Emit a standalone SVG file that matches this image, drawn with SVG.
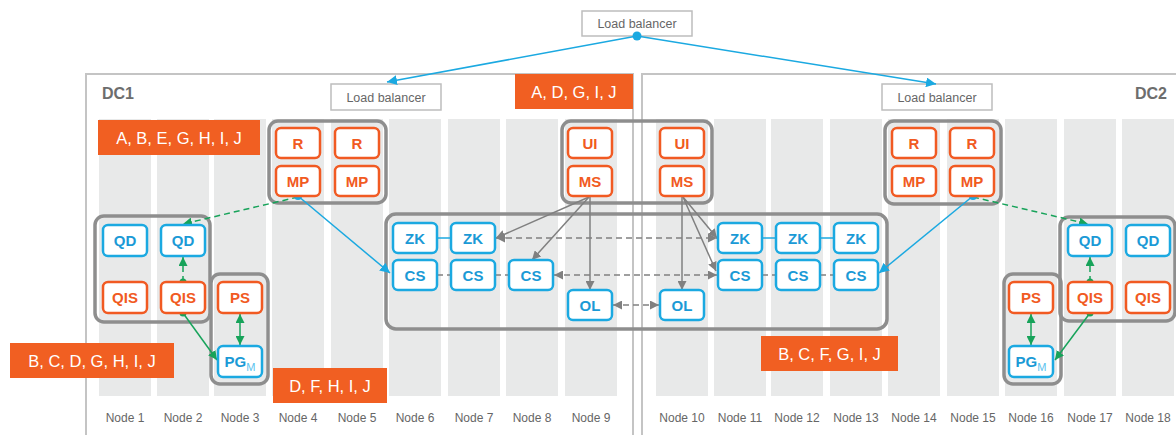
<svg xmlns="http://www.w3.org/2000/svg" width="1176" height="435" viewBox="0 0 1176 435">
<defs>
<style>
.col{fill:#e8e9e9}
.dc{fill:none;stroke:#c4c4c4;stroke-width:2}
.lb{fill:#fff;stroke:#bdbdbd;stroke-width:1.5}
.lbt{font-family:"Liberation Sans",Arial,sans-serif;font-size:12.5px;fill:#666;text-anchor:middle}
.dct{font-family:"Liberation Sans",Arial,sans-serif;font-size:16px;font-weight:bold;fill:#6d6d6d}
.tag{fill:#f15f22}
.tagt{font-family:"Liberation Sans",Arial,sans-serif;font-size:16.5px;fill:#fff;text-anchor:middle}
.grp{fill:none;stroke:#8e8e8e;stroke-width:3.5}
.o{fill:#fff;stroke:#f15a22;stroke-width:2.5}
.b{fill:#fff;stroke:#1ba9e1;stroke-width:2.5}
.ot{font-family:"Liberation Sans",Arial,sans-serif;font-size:15px;font-weight:bold;fill:#f15a22;text-anchor:middle}
.bt{font-family:"Liberation Sans",Arial,sans-serif;font-size:15px;font-weight:bold;fill:#1b9ad6;text-anchor:middle}
.sub{font-size:11px;font-weight:normal;fill:#5cc3ee}
.nt{font-family:"Liberation Sans",Arial,sans-serif;font-size:12px;fill:#666;text-anchor:middle}
.gy{fill:none;stroke:#808080;stroke-width:1.5}
.gyd{fill:none;stroke:#808080;stroke-width:1.5;stroke-dasharray:6 4}
.bl{fill:none;stroke:#1ba9e1;stroke-width:1.5}
.gr{fill:none;stroke:#17a35a;stroke-width:1.5}
.grd{fill:none;stroke:#17a35a;stroke-width:1.5;stroke-dasharray:6 4}
</style>
<marker id="ag" viewBox="0 0 10 10" refX="10" refY="5" markerWidth="9" markerHeight="9" markerUnits="userSpaceOnUse" orient="auto-start-reverse"><path d="M0,0 L10,5 L0,10 z" fill="#808080"/></marker>
<marker id="ab" viewBox="0 0 10 10" refX="10" refY="5" markerWidth="10" markerHeight="10" markerUnits="userSpaceOnUse" orient="auto-start-reverse"><path d="M0,0 L10,5 L0,10 z" fill="#1ba9e1"/></marker>
<marker id="an" viewBox="0 0 10 10" refX="10" refY="5" markerWidth="9" markerHeight="9" markerUnits="userSpaceOnUse" orient="auto-start-reverse"><path d="M0,0 L10,5 L0,10 z" fill="#17a35a"/></marker>
</defs>
<rect width="1176" height="435" fill="#fff"/>

<g id="columns">
<rect class="col" x="99" y="119" width="52" height="277"/>
<rect class="col" x="157" y="119" width="52" height="277"/>
<rect class="col" x="214" y="119" width="52" height="277"/>
<rect class="col" x="272" y="119" width="52" height="277"/>
<rect class="col" x="331" y="119" width="52" height="277"/>
<rect class="col" x="389" y="119" width="52" height="277"/>
<rect class="col" x="448" y="119" width="52" height="277"/>
<rect class="col" x="506" y="119" width="52" height="277"/>
<rect class="col" x="565" y="119" width="52" height="277"/>
<rect class="col" x="656" y="119" width="52" height="277"/>
<rect class="col" x="714" y="119" width="52" height="277"/>
<rect class="col" x="771" y="119" width="52" height="277"/>
<rect class="col" x="830" y="119" width="52" height="277"/>
<rect class="col" x="888" y="119" width="52" height="277"/>
<rect class="col" x="947" y="119" width="52" height="277"/>
<rect class="col" x="1005" y="119" width="52" height="277"/>
<rect class="col" x="1064" y="119" width="52" height="277"/>
<rect class="col" x="1122" y="119" width="52" height="277"/>
<text class="nt" x="125" y="422">Node 1</text>
<text class="nt" x="183" y="422">Node 2</text>
<text class="nt" x="240" y="422">Node 3</text>
<text class="nt" x="298" y="422">Node 4</text>
<text class="nt" x="357" y="422">Node 5</text>
<text class="nt" x="415" y="422">Node 6</text>
<text class="nt" x="474" y="422">Node 7</text>
<text class="nt" x="532" y="422">Node 8</text>
<text class="nt" x="591" y="422">Node 9</text>
<text class="nt" x="682" y="422">Node 10</text>
<text class="nt" x="740" y="422">Node 11</text>
<text class="nt" x="797" y="422">Node 12</text>
<text class="nt" x="856" y="422">Node 13</text>
<text class="nt" x="914" y="422">Node 14</text>
<text class="nt" x="973" y="422">Node 15</text>
<text class="nt" x="1031" y="422">Node 16</text>
<text class="nt" x="1090" y="422">Node 17</text>
<text class="nt" x="1148" y="422">Node 18</text>
</g>

<g id="dc1">
<rect class="dc" x="86" y="74" width="547" height="400"/>
<text class="dct" x="102" y="99">DC1</text>
</g>
<g id="dc2">
<rect class="dc" x="642" y="74" width="600" height="400"/>
<text class="dct" x="1167" y="99" text-anchor="end">DC2</text>
</g>

<g id="lb-top"><rect class="lb" x="582" y="11" width="110" height="25"/><text class="lbt" x="637" y="28">Load balancer</text></g>
<g id="lb-dc1"><rect class="lb" x="331" y="84" width="110" height="26"/><text class="lbt" x="386" y="101.5">Load balancer</text></g>
<g id="lb-dc2"><rect class="lb" x="882" y="84" width="110" height="26"/><text class="lbt" x="937" y="101.5">Load balancer</text></g>

<g id="tag1"><rect class="tag" x="98" y="120" width="162" height="35"/><text class="tagt" x="179" y="143.5">A, B, E, G, H, I, J</text></g>
<g id="tag2"><rect class="tag" x="515" y="74" width="118" height="35"/><text class="tagt" x="574" y="97.5">A, D, G, I, J</text></g>
<g id="tag3"><rect class="tag" x="10" y="343" width="164" height="35"/><text class="tagt" x="92" y="366.5">B, C, D, G, H, I, J</text></g>
<g id="tag4"><rect class="tag" x="273" y="368" width="114" height="35"/><text class="tagt" x="330" y="391.5">D, F, H, I, J</text></g>
<g id="tag5"><rect class="tag" x="761" y="336" width="137" height="35"/><text class="tagt" x="829.5" y="359.5">B, C, F, G, I, J</text></g>

<g id="groups">
<rect class="grp" x="269" y="121" width="117" height="82" rx="9"/>
<rect class="grp" x="885" y="121" width="116" height="83" rx="9"/>
<rect class="grp" x="562" y="121" width="150" height="82" rx="9"/>
<rect class="grp" x="386" y="214" width="501" height="115" rx="10"/>
<rect class="grp" x="95" y="216" width="115" height="106" rx="9"/>
<rect class="grp" x="211" y="274" width="57" height="110" rx="9"/>
<rect class="grp" x="1060" y="217" width="115" height="104" rx="9"/>
<rect class="grp" x="1004" y="274" width="57" height="110" rx="9"/>
</g>

<g id="connectors">
<line class="bl" x1="637" y1="36" x2="387" y2="82" marker-end="url(#ab)"/>
<line class="bl" x1="637" y1="36" x2="936" y2="84" marker-end="url(#ab)"/>
<circle cx="637" cy="36" r="4.5" fill="#1ba9e1"/>
<line class="bl" x1="298" y1="196" x2="390" y2="273" marker-end="url(#ab)"/>
<line class="bl" x1="973" y1="196" x2="879" y2="273" marker-end="url(#ab)"/>
<line class="grd" x1="298" y1="197" x2="183" y2="224" marker-end="url(#an)"/>
<line class="grd" x1="973" y1="197" x2="1088" y2="224" marker-end="url(#an)"/>
<circle cx="298" cy="196" r="4" fill="#1ba9e1"/>
<circle cx="973" cy="196" r="4" fill="#1ba9e1"/>
<line class="grd" x1="183" y1="282" x2="183" y2="257" marker-end="url(#an)"/>
<circle cx="183" cy="282" r="3.5" fill="#17a35a"/>
<line class="gr" x1="183" y1="313" x2="217" y2="360" marker-end="url(#an)"/>
<circle cx="183" cy="313" r="3.5" fill="#17a35a"/>
<line class="gr" x1="240" y1="314" x2="240" y2="345" marker-start="url(#an)" marker-end="url(#an)"/>
<line class="grd" x1="1090" y1="282" x2="1090" y2="257" marker-end="url(#an)"/>
<circle cx="1090" cy="282" r="3.5" fill="#17a35a"/>
<line class="gr" x1="1090" y1="313" x2="1055" y2="360" marker-end="url(#an)"/>
<circle cx="1090" cy="313" r="3.5" fill="#17a35a"/>
<line class="gr" x1="1031" y1="314" x2="1031" y2="345" marker-start="url(#an)" marker-end="url(#an)"/>
<line class="gy" x1="589" y1="197" x2="496" y2="238" marker-end="url(#ag)"/>
<line class="gy" x1="589" y1="197" x2="532" y2="260" marker-end="url(#ag)"/>
<line class="gy" x1="590" y1="197" x2="590" y2="290" marker-end="url(#ag)"/>
<line class="gy" x1="683" y1="197" x2="717" y2="238" marker-end="url(#ag)"/>
<line class="gy" x1="683" y1="197" x2="716" y2="271" marker-end="url(#ag)"/>
<line class="gy" x1="682" y1="197" x2="682" y2="290" marker-end="url(#ag)"/>
<line class="gyd" x1="496" y1="238" x2="717" y2="238" marker-start="url(#ag)" marker-end="url(#ag)"/>
<line class="gyd" x1="554" y1="275" x2="717" y2="275" marker-start="url(#ag)" marker-end="url(#ag)"/>
<line class="gyd" x1="437" y1="275" x2="451" y2="275"/>
<line class="gyd" x1="495" y1="275" x2="509" y2="275"/>
<line class="gyd" x1="762" y1="275" x2="776" y2="275"/>
<line class="gyd" x1="820" y1="275" x2="834" y2="275"/>
<line class="gyd" x1="613" y1="305" x2="659" y2="305" stroke-dasharray="5 4" marker-start="url(#ag)" marker-end="url(#ag)"/>
<line class="bl" x1="437" y1="238" x2="451" y2="238"/>
<line class="bl" x1="762" y1="238" x2="776" y2="238"/>
<line class="bl" x1="820" y1="238" x2="834" y2="238"/>
</g>

<g id="r4"><rect class="o" x="276" y="128" width="44" height="30" rx="5"/><text class="ot" x="298" y="148.5">R</text></g>
<g id="mp4"><rect class="o" x="276" y="166" width="44" height="30" rx="5"/><text class="ot" x="298" y="186.5">MP</text></g>
<g id="r5"><rect class="o" x="335" y="128" width="44" height="30" rx="5"/><text class="ot" x="357" y="148.5">R</text></g>
<g id="mp5"><rect class="o" x="335" y="166" width="44" height="30" rx="5"/><text class="ot" x="357" y="186.5">MP</text></g>
<g id="r14"><rect class="o" x="892" y="128" width="44" height="30" rx="5"/><text class="ot" x="914" y="148.5">R</text></g>
<g id="mp14"><rect class="o" x="892" y="166" width="44" height="30" rx="5"/><text class="ot" x="914" y="186.5">MP</text></g>
<g id="r15"><rect class="o" x="950" y="128" width="44" height="30" rx="5"/><text class="ot" x="972" y="148.5">R</text></g>
<g id="mp15"><rect class="o" x="950" y="166" width="44" height="30" rx="5"/><text class="ot" x="972" y="186.5">MP</text></g>
<g id="ui9"><rect class="o" x="568" y="128" width="44" height="30" rx="5"/><text class="ot" x="590" y="148.5">UI</text></g>
<g id="ms9"><rect class="o" x="568" y="166" width="44" height="30" rx="5"/><text class="ot" x="590" y="186.5">MS</text></g>
<g id="ui10"><rect class="o" x="660" y="128" width="44" height="30" rx="5"/><text class="ot" x="682" y="148.5">UI</text></g>
<g id="ms10"><rect class="o" x="660" y="166" width="44" height="30" rx="5"/><text class="ot" x="682" y="186.5">MS</text></g>

<g id="zk6"><rect class="b" x="393" y="223" width="44" height="30" rx="5"/><text class="bt" x="415" y="243.5">ZK</text></g>
<g id="zk7"><rect class="b" x="451" y="223" width="44" height="30" rx="5"/><text class="bt" x="473" y="243.5">ZK</text></g>
<g id="cs6"><rect class="b" x="393" y="260" width="44" height="30" rx="5"/><text class="bt" x="415" y="280.5">CS</text></g>
<g id="cs7"><rect class="b" x="451" y="260" width="44" height="30" rx="5"/><text class="bt" x="473" y="280.5">CS</text></g>
<g id="cs8"><rect class="b" x="509" y="260" width="44" height="30" rx="5"/><text class="bt" x="531" y="280.5">CS</text></g>
<g id="ol9"><rect class="b" x="568" y="290" width="44" height="30" rx="5"/><text class="bt" x="590" y="310.5">OL</text></g>
<g id="ol10"><rect class="b" x="660" y="290" width="44" height="30" rx="5"/><text class="bt" x="682" y="310.5">OL</text></g>
<g id="zk11"><rect class="b" x="718" y="223" width="44" height="30" rx="5"/><text class="bt" x="740" y="243.5">ZK</text></g>
<g id="zk12"><rect class="b" x="776" y="223" width="44" height="30" rx="5"/><text class="bt" x="798" y="243.5">ZK</text></g>
<g id="zk13"><rect class="b" x="834" y="223" width="44" height="30" rx="5"/><text class="bt" x="856" y="243.5">ZK</text></g>
<g id="cs11"><rect class="b" x="718" y="260" width="44" height="30" rx="5"/><text class="bt" x="740" y="280.5">CS</text></g>
<g id="cs12"><rect class="b" x="776" y="260" width="44" height="30" rx="5"/><text class="bt" x="798" y="280.5">CS</text></g>
<g id="cs13"><rect class="b" x="834" y="260" width="44" height="30" rx="5"/><text class="bt" x="856" y="280.5">CS</text></g>

<g id="qd1"><rect class="b" x="103" y="225" width="44" height="31" rx="5"/><text class="bt" x="125" y="246">QD</text></g>
<g id="qd2"><rect class="b" x="161" y="225" width="44" height="31" rx="5"/><text class="bt" x="183" y="246">QD</text></g>
<g id="qis1"><rect class="o" x="103" y="282" width="44" height="31" rx="5"/><text class="ot" x="125" y="303">QIS</text></g>
<g id="qis2"><rect class="o" x="161" y="282" width="44" height="31" rx="5"/><text class="ot" x="183" y="303">QIS</text></g>
<g id="ps3"><rect class="o" x="218" y="282" width="44" height="31" rx="5"/><text class="ot" x="240" y="303">PS</text></g>
<g id="pg3"><rect class="b" x="218" y="346" width="44" height="31" rx="5"/><text class="bt" x="240" y="367">PG<tspan class="sub" dy="4">M</tspan></text></g>

<g id="qd17"><rect class="b" x="1068" y="225" width="44" height="31" rx="5"/><text class="bt" x="1090" y="246">QD</text></g>
<g id="qd18"><rect class="b" x="1126" y="225" width="44" height="31" rx="5"/><text class="bt" x="1148" y="246">QD</text></g>
<g id="qis17"><rect class="o" x="1068" y="282" width="44" height="31" rx="5"/><text class="ot" x="1090" y="303">QIS</text></g>
<g id="qis18"><rect class="o" x="1126" y="282" width="44" height="31" rx="5"/><text class="ot" x="1148" y="303">QIS</text></g>
<g id="ps16"><rect class="o" x="1009" y="282" width="44" height="31" rx="5"/><text class="ot" x="1031" y="303">PS</text></g>
<g id="pg16"><rect class="b" x="1009" y="346" width="44" height="31" rx="5"/><text class="bt" x="1031" y="367">PG<tspan class="sub" dy="4">M</tspan></text></g>
</svg>
